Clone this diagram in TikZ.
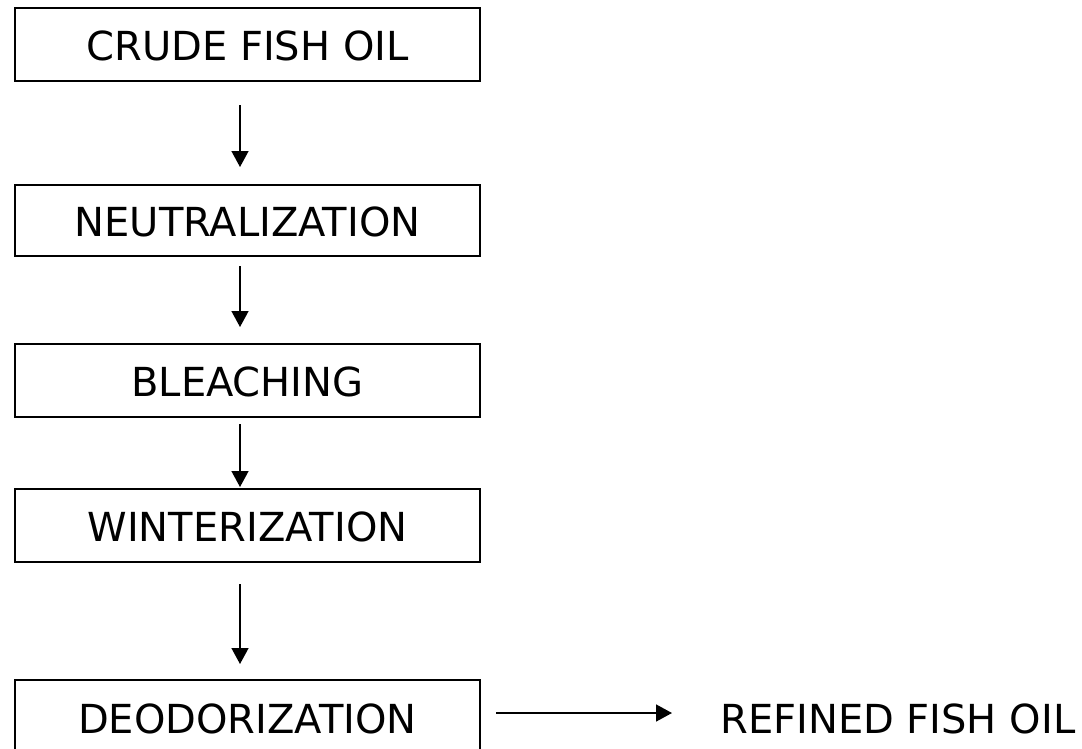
\documentclass[tikz,border=0pt]{standalone}
\usepackage{fontspec}
\setmainfont{DejaVu Sans}
\usetikzlibrary{arrows.meta}
\tikzset{
  stagebox/.style={draw=black, line width=2pt, inner sep=0pt, minimum width=465pt,
    text height=32pt, text depth=0pt, font=\fontsize{40}{48}\selectfont},
  plainlabel/.style={inner sep=0pt, text height=32pt, text depth=0pt, font=\fontsize{40}{48}\selectfont},
  flow/.style={line width=1.5pt, -{Triangle[width=17pt,length=16pt]}}
}
\begin{document}
\begin{tikzpicture}[x=1pt,y=-1pt]
\useasboundingbox (0,0) rectangle (1082,748);
\node[stagebox, minimum height=73pt] (crude)  at (247.5,44.5)  {CRUDE FISH OIL};
\node[stagebox, minimum height=71pt] (neut)   at (247.5,220.5) {NEUTRALIZATION};
\node[stagebox, minimum height=73pt] (bleach) at (247.5,380.5) {BLEACHING};
\node[stagebox, minimum height=73pt] (winter) at (247.5,525.5) {WINTERIZATION};
\node[stagebox, minimum height=75pt] (deod)   at (247.5,717.5) {DEODORIZATION};
\node[plainlabel, anchor=west] (refined) at (720,717.5) {REFINED FISH OIL};
\draw[flow] ([xshift=-7.5pt,yshift=-23pt]crude.south) -- ([xshift=-7.5pt,yshift=17pt]neut.north);
\draw[flow] ([xshift=-7.5pt,yshift=-9pt]neut.south) -- ([xshift=-7.5pt,yshift=16pt]bleach.north);
\draw[flow] ([xshift=-7.5pt,yshift=-6pt]bleach.south) -- ([xshift=-7.5pt,yshift=1pt]winter.north);
\draw[flow] ([xshift=-7.5pt,yshift=-21pt]winter.south) -- ([xshift=-7.5pt,yshift=15pt]deod.north);
\draw[flow] ([xshift=15pt,yshift=4.5pt]deod.east) -- ([xshift=-48pt,yshift=4.5pt]refined.west);
\end{tikzpicture}
\end{document}
